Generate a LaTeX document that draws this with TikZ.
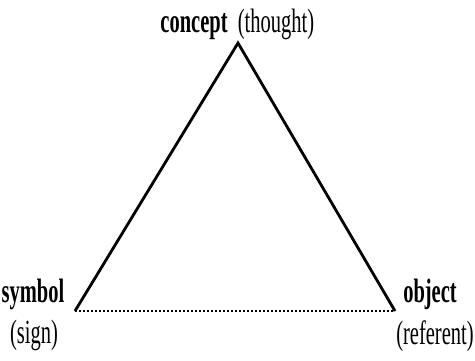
\documentclass[tikz,border=0pt]{standalone}
\usepackage{fontspec}
\setmainfont{Liberation Serif}
\tikzset{
  lbl/.style={anchor=base, inner sep=0pt, font=\fontsize{20.5}{24}\selectfont},
  side/.style={line width=2.8pt, line join=miter},
  dots/.style={line width=2.6pt, dash pattern=on 1.6pt off 2.4pt}
}
\newcommand{\tall}[1]{\scalebox{1}[1.65]{#1}}
\begin{document}
\begin{tikzpicture}[x=1pt,y=-1pt]
\useasboundingbox (0,0) rectangle (475,360);
\coordinate (c) at (238,43);
\coordinate (s) at (75,311);
\coordinate (o) at (395,311);
\draw[side] (s) -- (c) -- (o);
\draw[dots] (s) -- (o);
\node[lbl] (cn) at (194,32) {\tall{\textbf{concept}}};
\node[lbl] (th) at (276,32) {\tall{(thought)}};
\node[lbl] (sy) at (33,302) {\tall{\textbf{symbol}}};
\node[lbl] (sg) at (34,343) {\tall{(sign)}};
\node[lbl] (ob) at (430,302) {\tall{\textbf{object}}};
\node[lbl] (rf) at (435,344) {\tall{(referent)}};
\end{tikzpicture}
\end{document}
